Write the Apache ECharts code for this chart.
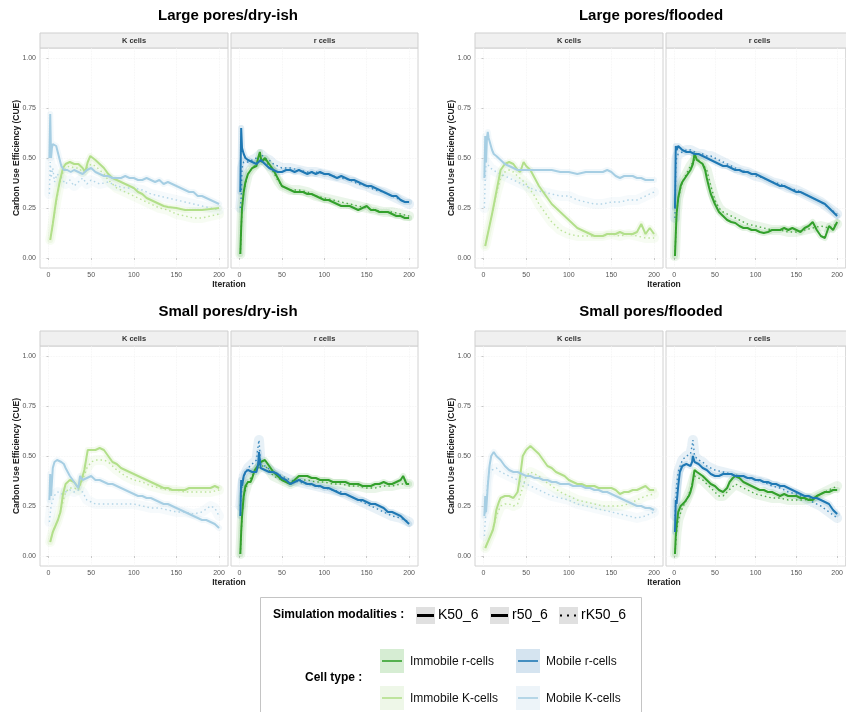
<!DOCTYPE html>
<html><head><meta charset="utf-8">
<script src="https://cdn.jsdelivr.net/npm/echarts@6/dist/echarts.min.js"></script>
<style>html,body{margin:0;padding:0;background:#fff}#c{width:846px;height:712px}</style>
</head><body><div id="c"></div>
<script>
// ---------- DATA: [iteration, CUE] ----------
// Large pores / dry-ish
const LD_K_mobile_K50 = [[1,0.50],[2,0.72],[3,0.50],[4,0.55],[5,0.57],[7,0.58],[9,0.56],[12,0.51],[15,0.46],[18,0.44],[22,0.44],[26,0.43],[30,0.44],[35,0.43],[40,0.42],[45,0.44],[50,0.45],[55,0.43],[60,0.42],[65,0.41],[70,0.41],[75,0.40],[80,0.40],[85,0.40],[90,0.41],[95,0.40],[100,0.40],[105,0.39],[110,0.39],[115,0.40],[120,0.39],[125,0.38],[130,0.39],[135,0.37],[140,0.38],[145,0.37],[150,0.36],[155,0.35],[160,0.34],[165,0.33],[170,0.33],[175,0.31],[180,0.31],[185,0.30],[190,0.29],[195,0.28],[200,0.27]];
const LD_K_immobile_K50 = [[2,0.09],[5,0.17],[9,0.29],[13,0.38],[17,0.45],[20,0.47],[25,0.48],[30,0.47],[35,0.47],[40,0.45],[43,0.43],[46,0.48],[49,0.51],[52,0.50],[55,0.49],[60,0.47],[65,0.45],[70,0.42],[75,0.40],[80,0.39],[85,0.38],[90,0.37],[95,0.36],[100,0.35],[105,0.33],[110,0.32],[115,0.30],[120,0.29],[125,0.28],[130,0.27],[135,0.26],[140,0.255],[150,0.25],[160,0.24],[170,0.24],[180,0.24],[190,0.245],[200,0.25]];
const LD_K_mobile_rK50 = [[1,0.32],[2,0.48],[3,0.40],[5,0.45],[7,0.38],[10,0.42],[15,0.40],[20,0.37],[25,0.39],[30,0.36],[35,0.38],[40,0.40],[45,0.37],[50,0.39],[55,0.38],[60,0.37],[70,0.38],[80,0.36],[90,0.35],[100,0.35],[110,0.34],[120,0.32],[130,0.31],[140,0.30],[150,0.29],[160,0.28],[170,0.27],[180,0.26],[190,0.25],[200,0.24]];
const LD_K_immobile_rK50 = [[2,0.09],[5,0.17],[9,0.28],[13,0.37],[17,0.43],[20,0.45],[25,0.46],[30,0.45],[35,0.45],[40,0.43],[45,0.45],[50,0.47],[55,0.46],[60,0.44],[65,0.42],[70,0.39],[75,0.37],[80,0.35],[90,0.33],[100,0.31],[110,0.29],[120,0.27],[130,0.25],[140,0.24],[150,0.22],[160,0.21],[170,0.20],[180,0.20],[190,0.21],[200,0.22]];
const LD_r_mobile_r50 = [[1,0.33],[2,0.65],[3,0.55],[5,0.52],[7,0.50],[10,0.49],[15,0.48],[20,0.47],[25,0.49],[30,0.47],[35,0.45],[40,0.44],[45,0.43],[50,0.43],[55,0.44],[60,0.44],[65,0.43],[70,0.44],[75,0.43],[80,0.42],[85,0.43],[90,0.42],[95,0.43],[100,0.42],[105,0.42],[110,0.41],[115,0.40],[120,0.41],[125,0.40],[130,0.39],[135,0.39],[140,0.38],[145,0.37],[150,0.36],[155,0.36],[160,0.35],[165,0.34],[170,0.33],[175,0.32],[180,0.31],[185,0.31],[190,0.29],[195,0.28],[200,0.28]];
const LD_r_immobile_r50 = [[1,0.02],[2,0.15],[3,0.25],[5,0.33],[7,0.38],[10,0.42],[15,0.45],[20,0.46],[22,0.50],[24,0.53],[26,0.48],[30,0.50],[35,0.47],[40,0.44],[45,0.40],[50,0.36],[55,0.35],[60,0.34],[65,0.33],[70,0.33],[75,0.33],[80,0.32],[85,0.32],[90,0.31],[95,0.30],[100,0.29],[105,0.29],[110,0.28],[115,0.27],[120,0.26],[125,0.26],[130,0.26],[135,0.25],[140,0.24],[145,0.25],[150,0.26],[155,0.24],[160,0.24],[165,0.23],[170,0.23],[175,0.23],[180,0.22],[185,0.21],[190,0.21],[195,0.20],[200,0.20]];
const LD_r_mobile_rK50 = [[1,0.25],[2,0.30],[3,0.45],[5,0.48],[10,0.48],[15,0.49],[20,0.50],[25,0.52],[30,0.50],[35,0.49],[40,0.47],[50,0.45],[60,0.45],[70,0.44],[80,0.43],[90,0.43],[100,0.42],[110,0.41],[120,0.40],[130,0.39],[140,0.37],[150,0.36],[160,0.34],[170,0.33],[180,0.31],[190,0.29],[200,0.27]];
const LD_r_immobile_rK50 = [[1,0.02],[3,0.25],[5,0.33],[10,0.42],[15,0.45],[20,0.47],[25,0.49],[30,0.49],[35,0.46],[40,0.43],[45,0.39],[50,0.36],[60,0.34],[70,0.34],[80,0.33],[90,0.31],[100,0.30],[110,0.29],[120,0.28],[130,0.27],[140,0.26],[150,0.25],[160,0.24],[170,0.23],[180,0.23],[190,0.22],[200,0.21]];
// Large pores / flooded
const LF_K_mobile_K50 = [[1,0.40],[2,0.61],[3,0.48],[4,0.60],[5,0.63],[6,0.60],[8,0.57],[10,0.54],[12,0.52],[15,0.51],[20,0.49],[25,0.47],[30,0.46],[35,0.45],[40,0.44],[45,0.44],[50,0.44],[60,0.44],[70,0.44],[80,0.44],[90,0.43],[100,0.43],[110,0.42],[120,0.43],[130,0.43],[140,0.43],[145,0.44],[150,0.43],[155,0.41],[160,0.40],[165,0.41],[170,0.41],[175,0.41],[180,0.40],[185,0.40],[190,0.39],[195,0.39],[200,0.39]];
const LF_K_immobile_K50 = [[2,0.06],[5,0.12],[10,0.22],[15,0.33],[20,0.44],[25,0.47],[30,0.48],[35,0.47],[40,0.44],[43,0.43],[47,0.48],[50,0.46],[55,0.44],[60,0.40],[65,0.36],[70,0.33],[75,0.30],[80,0.27],[85,0.25],[90,0.23],[95,0.21],[100,0.19],[105,0.17],[110,0.15],[115,0.14],[120,0.13],[125,0.12],[130,0.11],[135,0.11],[140,0.11],[145,0.12],[150,0.12],[155,0.12],[160,0.13],[165,0.12],[170,0.12],[175,0.12],[180,0.13],[185,0.17],[188,0.14],[190,0.12],[195,0.15],[200,0.12]];
const LF_K_mobile_rK50 = [[1,0.25],[2,0.40],[3,0.48],[5,0.47],[8,0.45],[10,0.44],[15,0.43],[20,0.42],[25,0.41],[30,0.40],[35,0.39],[40,0.38],[45,0.37],[50,0.36],[55,0.35],[60,0.34],[70,0.33],[80,0.32],[90,0.31],[100,0.31],[110,0.29],[120,0.28],[130,0.27],[140,0.27],[150,0.28],[160,0.28],[170,0.29],[180,0.29],[190,0.31],[200,0.33]];
const LF_K_immobile_rK50 = [[2,0.06],[5,0.12],[10,0.22],[15,0.32],[20,0.40],[25,0.43],[30,0.44],[35,0.43],[40,0.41],[45,0.39],[50,0.37],[55,0.34],[60,0.31],[65,0.27],[70,0.24],[75,0.21],[80,0.18],[85,0.16],[90,0.14],[100,0.12],[110,0.11],[120,0.11],[130,0.11],[140,0.11],[150,0.12],[160,0.11],[170,0.12],[180,0.11],[190,0.10],[200,0.10]];
const LF_r_mobile_r50 = [[1,0.25],[2,0.56],[3,0.54],[5,0.56],[10,0.54],[15,0.53],[20,0.53],[25,0.52],[30,0.52],[35,0.51],[40,0.50],[45,0.49],[50,0.48],[55,0.47],[60,0.46],[65,0.46],[70,0.45],[75,0.44],[80,0.44],[85,0.43],[90,0.43],[95,0.42],[100,0.42],[105,0.41],[110,0.40],[115,0.39],[120,0.38],[125,0.37],[130,0.36],[135,0.36],[140,0.35],[145,0.34],[150,0.33],[155,0.33],[160,0.32],[165,0.31],[170,0.30],[175,0.29],[180,0.28],[185,0.27],[190,0.25],[195,0.23],[200,0.21]];
const LF_r_immobile_r50 = [[1,0.01],[2,0.12],[3,0.22],[5,0.30],[8,0.36],[10,0.38],[15,0.41],[20,0.44],[23,0.47],[25,0.52],[28,0.49],[30,0.48],[35,0.47],[38,0.44],[40,0.40],[43,0.35],[45,0.32],[50,0.27],[55,0.23],[60,0.21],[65,0.19],[70,0.18],[75,0.175],[80,0.16],[85,0.15],[90,0.15],[95,0.14],[100,0.14],[105,0.13],[110,0.125],[115,0.13],[120,0.14],[125,0.14],[130,0.14],[135,0.15],[140,0.14],[145,0.15],[150,0.14],[155,0.13],[160,0.15],[165,0.16],[170,0.18],[175,0.14],[180,0.11],[185,0.10],[190,0.16],[195,0.14],[200,0.18]];
const LF_r_mobile_rK50 = [[1,0.20],[2,0.45],[3,0.50],[5,0.52],[10,0.53],[15,0.54],[20,0.54],[25,0.53],[30,0.52],[35,0.52],[40,0.51],[45,0.51],[50,0.50],[60,0.48],[70,0.46],[80,0.44],[90,0.43],[100,0.41],[110,0.40],[120,0.38],[130,0.37],[140,0.35],[150,0.34],[160,0.32],[170,0.30],[180,0.28],[190,0.25],[200,0.22]];
const LF_r_immobile_rK50 = [[1,0.01],[3,0.22],[5,0.30],[10,0.38],[15,0.42],[20,0.46],[25,0.49],[30,0.49],[35,0.47],[40,0.44],[45,0.36],[50,0.29],[55,0.25],[60,0.23],[70,0.21],[80,0.19],[90,0.17],[100,0.16],[110,0.15],[120,0.14],[130,0.14],[140,0.13],[150,0.13],[160,0.14],[170,0.15],[180,0.16],[190,0.15],[200,0.17]];
// Small pores / dry-ish
const SD_K_mobile_K50 = [[1,0.28],[2,0.41],[3,0.30],[5,0.44],[7,0.47],[10,0.48],[12,0.47],[15,0.47],[18,0.46],[20,0.44],[25,0.40],[30,0.37],[35,0.34],[37,0.40],[40,0.38],[45,0.39],[50,0.40],[55,0.38],[60,0.38],[65,0.37],[70,0.36],[75,0.36],[80,0.35],[85,0.34],[90,0.33],[95,0.32],[100,0.31],[105,0.30],[110,0.30],[115,0.29],[120,0.29],[125,0.28],[130,0.27],[135,0.26],[140,0.26],[145,0.25],[150,0.24],[155,0.23],[160,0.22],[165,0.21],[170,0.20],[175,0.19],[180,0.18],[185,0.18],[190,0.17],[195,0.16],[200,0.14]];
const SD_K_immobile_K50 = [[2,0.07],[5,0.12],[8,0.15],[11,0.18],[14,0.22],[17,0.31],[20,0.36],[25,0.38],[30,0.37],[35,0.34],[38,0.37],[42,0.43],[46,0.53],[50,0.53],[55,0.53],[60,0.54],[65,0.53],[70,0.50],[75,0.47],[80,0.46],[85,0.44],[90,0.43],[95,0.42],[100,0.41],[105,0.40],[110,0.39],[115,0.38],[120,0.37],[125,0.36],[130,0.35],[135,0.34],[140,0.34],[145,0.33],[150,0.33],[155,0.33],[160,0.33],[165,0.34],[170,0.34],[175,0.34],[180,0.34],[185,0.34],[190,0.34],[195,0.35],[200,0.34]];
const SD_K_mobile_rK50 = [[1,0.17],[3,0.25],[5,0.28],[8,0.31],[11,0.32],[15,0.31],[20,0.32],[25,0.33],[30,0.32],[35,0.33],[40,0.32],[45,0.28],[50,0.27],[55,0.26],[60,0.26],[70,0.26],[80,0.26],[90,0.26],[100,0.26],[110,0.25],[120,0.24],[130,0.24],[140,0.23],[150,0.22],[160,0.22],[170,0.21],[180,0.22],[190,0.25],[195,0.24],[200,0.20]];
const SD_K_immobile_rK50 = [[2,0.07],[5,0.12],[10,0.17],[15,0.24],[20,0.32],[25,0.34],[30,0.34],[35,0.33],[40,0.38],[45,0.44],[50,0.47],[55,0.48],[60,0.48],[65,0.48],[70,0.47],[75,0.45],[80,0.43],[90,0.40],[100,0.38],[110,0.37],[120,0.35],[130,0.34],[140,0.33],[150,0.33],[160,0.32],[170,0.32],[180,0.32],[190,0.32],[200,0.33]];
const SD_r_mobile_r50 = [[1,0.20],[2,0.38],[3,0.35],[5,0.40],[7,0.42],[10,0.43],[15,0.42],[20,0.42],[22,0.46],[23,0.52],[25,0.44],[30,0.43],[35,0.42],[40,0.42],[45,0.41],[50,0.39],[55,0.38],[60,0.36],[65,0.37],[70,0.38],[75,0.37],[80,0.36],[85,0.36],[90,0.35],[95,0.35],[100,0.34],[105,0.34],[110,0.33],[115,0.32],[120,0.31],[125,0.31],[130,0.30],[135,0.29],[140,0.28],[145,0.28],[150,0.27],[155,0.26],[160,0.26],[165,0.25],[170,0.24],[175,0.22],[180,0.22],[185,0.21],[190,0.20],[195,0.18],[200,0.16]];
const SD_r_immobile_r50 = [[1,0.01],[2,0.12],[3,0.20],[5,0.30],[7,0.35],[10,0.37],[13,0.37],[15,0.39],[18,0.43],[20,0.44],[25,0.47],[30,0.48],[35,0.45],[40,0.42],[45,0.40],[50,0.38],[55,0.37],[60,0.36],[65,0.38],[70,0.40],[75,0.40],[80,0.40],[85,0.39],[90,0.39],[95,0.38],[100,0.38],[105,0.38],[110,0.37],[115,0.37],[120,0.37],[125,0.37],[130,0.36],[135,0.36],[140,0.36],[145,0.35],[150,0.35],[155,0.35],[160,0.36],[165,0.36],[170,0.37],[175,0.36],[180,0.36],[185,0.37],[190,0.38],[193,0.40],[197,0.36],[200,0.36]];
const SD_r_mobile_rK50 = [[1,0.25],[3,0.35],[5,0.40],[10,0.44],[15,0.46],[20,0.48],[22,0.55],[23,0.58],[25,0.46],[30,0.45],[40,0.42],[50,0.40],[60,0.38],[70,0.37],[80,0.36],[90,0.35],[100,0.34],[110,0.33],[120,0.32],[130,0.30],[140,0.28],[150,0.26],[160,0.24],[170,0.22],[180,0.20],[190,0.19],[200,0.17]];
const SD_r_immobile_rK50 = [[1,0.01],[3,0.20],[5,0.30],[10,0.37],[15,0.40],[20,0.43],[25,0.45],[30,0.45],[35,0.43],[40,0.40],[50,0.38],[60,0.36],[70,0.38],[80,0.38],[90,0.37],[100,0.37],[110,0.36],[120,0.36],[130,0.35],[140,0.35],[150,0.34],[160,0.34],[170,0.35],[180,0.35],[190,0.36],[200,0.36]];
// Small pores / flooded
const SF_K_mobile_K50 = [[1,0.20],[2,0.30],[3,0.22],[5,0.35],[7,0.45],[9,0.50],[12,0.52],[15,0.50],[20,0.48],[25,0.45],[30,0.43],[35,0.42],[40,0.42],[45,0.41],[50,0.40],[55,0.40],[60,0.39],[65,0.39],[70,0.38],[75,0.38],[80,0.37],[85,0.37],[90,0.36],[95,0.36],[100,0.36],[105,0.35],[110,0.35],[115,0.35],[120,0.34],[125,0.34],[130,0.33],[135,0.33],[140,0.32],[145,0.32],[150,0.31],[155,0.30],[160,0.29],[165,0.28],[170,0.27],[175,0.26],[180,0.25],[185,0.25],[190,0.24],[195,0.24],[200,0.23]];
const SF_K_immobile_K50 = [[2,0.04],[5,0.07],[8,0.10],[11,0.13],[13,0.17],[15,0.23],[18,0.27],[20,0.29],[25,0.30],[30,0.30],[35,0.29],[40,0.32],[43,0.40],[46,0.50],[50,0.53],[55,0.55],[60,0.53],[65,0.51],[70,0.48],[75,0.45],[80,0.44],[85,0.42],[90,0.41],[95,0.40],[100,0.38],[105,0.37],[110,0.36],[115,0.36],[120,0.35],[125,0.35],[130,0.35],[135,0.34],[140,0.34],[145,0.34],[150,0.34],[155,0.33],[160,0.31],[165,0.32],[170,0.32],[175,0.33],[180,0.33],[185,0.34],[190,0.35],[195,0.33],[200,0.33]];
const SF_K_mobile_rK50 = [[1,0.10],[3,0.25],[5,0.38],[7,0.42],[10,0.43],[15,0.44],[20,0.42],[25,0.41],[30,0.40],[35,0.39],[40,0.38],[45,0.37],[50,0.36],[60,0.34],[70,0.32],[80,0.30],[90,0.29],[100,0.28],[110,0.26],[120,0.25],[130,0.24],[140,0.23],[150,0.22],[160,0.21],[170,0.20],[180,0.19],[190,0.20],[200,0.22]];
const SF_K_immobile_rK50 = [[2,0.04],[5,0.07],[10,0.12],[15,0.20],[20,0.25],[25,0.26],[30,0.26],[35,0.25],[40,0.26],[45,0.33],[50,0.40],[55,0.42],[60,0.41],[65,0.40],[70,0.38],[80,0.35],[90,0.32],[100,0.30],[110,0.28],[120,0.27],[130,0.26],[140,0.25],[150,0.25],[160,0.25],[170,0.26],[180,0.28],[190,0.30],[200,0.31]];
const SF_r_mobile_r50 = [[1,0.12],[2,0.28],[3,0.26],[5,0.35],[7,0.42],[10,0.45],[15,0.46],[20,0.45],[22,0.47],[23,0.50],[25,0.47],[30,0.46],[35,0.44],[40,0.43],[45,0.41],[50,0.40],[55,0.40],[60,0.41],[65,0.41],[70,0.41],[75,0.40],[80,0.40],[85,0.40],[90,0.39],[95,0.39],[100,0.38],[105,0.38],[110,0.37],[115,0.37],[120,0.36],[125,0.36],[130,0.35],[135,0.35],[140,0.34],[145,0.33],[150,0.32],[155,0.31],[160,0.30],[165,0.30],[170,0.29],[175,0.29],[180,0.28],[185,0.27],[190,0.26],[195,0.23],[200,0.21]];
const SF_r_immobile_r50 = [[1,0.01],[2,0.10],[3,0.15],[5,0.22],[8,0.25],[10,0.25],[13,0.27],[15,0.28],[18,0.30],[20,0.32],[22,0.35],[25,0.43],[28,0.42],[30,0.41],[35,0.40],[40,0.38],[45,0.36],[50,0.35],[55,0.33],[60,0.32],[65,0.34],[68,0.37],[72,0.39],[75,0.40],[80,0.39],[85,0.37],[90,0.36],[95,0.35],[100,0.34],[105,0.33],[110,0.33],[115,0.32],[120,0.32],[125,0.31],[130,0.30],[135,0.31],[140,0.30],[145,0.30],[150,0.30],[155,0.29],[160,0.29],[165,0.28],[170,0.28],[175,0.30],[180,0.31],[185,0.32],[190,0.32],[195,0.33],[200,0.33]];
const SF_r_mobile_rK50 = [[1,0.20],[3,0.35],[5,0.42],[10,0.48],[15,0.50],[20,0.51],[22,0.55],[23,0.58],[25,0.50],[30,0.48],[35,0.47],[40,0.45],[50,0.43],[60,0.42],[70,0.41],[80,0.40],[90,0.39],[100,0.38],[110,0.37],[120,0.35],[130,0.34],[140,0.32],[150,0.31],[160,0.29],[170,0.27],[180,0.25],[190,0.22],[200,0.19]];
const SF_r_immobile_rK50 = [[1,0.01],[3,0.12],[5,0.18],[10,0.24],[15,0.28],[20,0.33],[25,0.40],[30,0.39],[35,0.38],[40,0.36],[45,0.34],[50,0.32],[55,0.30],[60,0.30],[65,0.32],[70,0.34],[75,0.36],[80,0.35],[90,0.33],[100,0.31],[110,0.30],[120,0.29],[130,0.29],[140,0.28],[150,0.28],[160,0.28],[170,0.29],[180,0.31],[190,0.33],[200,0.35]];

const PANEL_TITLES = ['Large pores/dry-ish','Large pores/flooded','Small pores/dry-ish','Small pores/flooded'];
const FACETS = ['K cells','r cells'];
const X_TICKS = [0,50,100,150,200];
const Y_TICKS = [0,0.25,0.5,0.75,1];
const Y_TITLE = 'Carbon Use Efficiency (CUE)';
const X_TITLE = 'Iteration';
const CELL_TYPES = ['Immobile r-cells','Mobile r-cells','Immobile K-cells','Mobile K-cells'];
const MODALITIES = ['K50_6','r50_6','rK50_6'];

// table: panel -> facet -> [data, cell type, modality]
const TABLE = [
  [[[LD_K_immobile_K50,'Immobile K-cells','K50_6'],[LD_K_mobile_K50,'Mobile K-cells','K50_6'],[LD_K_immobile_rK50,'Immobile K-cells','rK50_6'],[LD_K_mobile_rK50,'Mobile K-cells','rK50_6']],
   [[LD_r_immobile_r50,'Immobile r-cells','r50_6'],[LD_r_mobile_r50,'Mobile r-cells','r50_6'],[LD_r_immobile_rK50,'Immobile r-cells','rK50_6'],[LD_r_mobile_rK50,'Mobile r-cells','rK50_6']]],
  [[[LF_K_immobile_K50,'Immobile K-cells','K50_6'],[LF_K_mobile_K50,'Mobile K-cells','K50_6'],[LF_K_immobile_rK50,'Immobile K-cells','rK50_6'],[LF_K_mobile_rK50,'Mobile K-cells','rK50_6']],
   [[LF_r_immobile_r50,'Immobile r-cells','r50_6'],[LF_r_mobile_r50,'Mobile r-cells','r50_6'],[LF_r_immobile_rK50,'Immobile r-cells','rK50_6'],[LF_r_mobile_rK50,'Mobile r-cells','rK50_6']]],
  [[[SD_K_immobile_K50,'Immobile K-cells','K50_6'],[SD_K_mobile_K50,'Mobile K-cells','K50_6'],[SD_K_immobile_rK50,'Immobile K-cells','rK50_6'],[SD_K_mobile_rK50,'Mobile K-cells','rK50_6']],
   [[SD_r_immobile_r50,'Immobile r-cells','r50_6'],[SD_r_mobile_r50,'Mobile r-cells','r50_6'],[SD_r_immobile_rK50,'Immobile r-cells','rK50_6'],[SD_r_mobile_rK50,'Mobile r-cells','rK50_6']]],
  [[[SF_K_immobile_K50,'Immobile K-cells','K50_6'],[SF_K_mobile_K50,'Mobile K-cells','K50_6'],[SF_K_immobile_rK50,'Immobile K-cells','rK50_6'],[SF_K_mobile_rK50,'Mobile K-cells','rK50_6']],
   [[SF_r_immobile_r50,'Immobile r-cells','r50_6'],[SF_r_mobile_r50,'Mobile r-cells','r50_6'],[SF_r_immobile_rK50,'Immobile r-cells','rK50_6'],[SF_r_mobile_rK50,'Mobile r-cells','rK50_6']]]
];

// ---------- STYLE / LAYOUT ----------
const COLORS = {'Immobile r-cells':'#33a02c','Mobile r-cells':'#1f78b4','Immobile K-cells':'#b2df8a','Mobile K-cells':'#a6cee3'};
const KEY_FILL = {'Immobile r-cells':'#d6edd3','Mobile r-cells':'#d5e4f0','Immobile K-cells':'#eef7e8','Mobile K-cells':'#edf4f9'};
const FONT = '"Liberation Sans", Arial, sans-serif';
const OFFSETS = [[0,0],[435,0],[0,298],[435,298]];
const TITLE_POS = [[228,16],[651,16],[228,312],[651,312]];
const FACET_BOX = [[40,188],[231,187]]; // left, width
const TOP = 48, H = 220;

const grids = [], xAxes = [], yAxes = [], series = [], graphics = [];
PANEL_TITLES.forEach((title, p) => {
  const [ox, oy] = OFFSETS[p];
  graphics.push({type:'text', x:TITLE_POS[p][0], y:TITLE_POS[p][1], style:{text:title, font:'bold 15px '+FONT, fill:'#000', textAlign:'center', textVerticalAlign:'middle'}});
  graphics.push({type:'text', x:17+ox, y:158+oy, rotation:Math.PI/2, style:{text:Y_TITLE, x:0, y:0, font:'bold 8.5px '+FONT, fill:'#222', textAlign:'center', textVerticalAlign:'middle'}});
  graphics.push({type:'text', x:229+ox, y:285+oy, style:{text:X_TITLE, font:'bold 8.5px '+FONT, fill:'#222', textAlign:'center', textVerticalAlign:'middle'}});
  FACETS.forEach((facet, f) => {
    const gi = p*2 + f;
    const left = FACET_BOX[f][0] + ox, width = FACET_BOX[f][1];
    grids.push({left, top:TOP+oy, width, height:H, show:true, borderColor:'#d2d2d2', borderWidth:1, backgroundColor:'#fff'});
    graphics.push({type:'rect', shape:{x:left, y:33+oy, width, height:15}, style:{fill:'#f0f0f0', stroke:'#cfcfcf', lineWidth:1}});
    graphics.push({type:'text', x:left+width/2, y:40.5+oy, style:{text:facet, font:'bold 7.5px '+FONT, fill:'#333', textAlign:'center', textVerticalAlign:'middle'}});
    xAxes.push({type:'value', gridIndex:gi, min:-10, max:210.5,
      axisLine:{show:false},
      axisTick:{show:true, customValues:X_TICKS, length:2, lineStyle:{color:'#c8c8c8'}},
      axisLabel:{customValues:X_TICKS, fontSize:7, color:'#555', margin:4, fontFamily:FONT},
      splitLine:{show:true, lineStyle:{color:'#f1f1f1', width:0.8, type:'dotted'}}});
    yAxes.push({type:'value', gridIndex:gi, min:-0.05, max:1.05,
      axisLine:{show:false},
      axisTick:{show:f===0, customValues:Y_TICKS, length:2, lineStyle:{color:'#c8c8c8'}},
      axisLabel:{show:f===0, customValues:Y_TICKS, fontSize:7, color:'#555', margin:4, fontFamily:FONT, formatter:v=>v.toFixed(2)},
      splitLine:{show:true, lineStyle:{color:'#f1f1f1', width:0.8, type:'dotted'}}});
    TABLE[p][f].forEach(([data, cell, mod]) => {
      const dotted = mod === 'rK50_6';
      const col = COLORS[cell];
      series.push({type:'line', xAxisIndex:gi, yAxisIndex:gi, data, showSymbol:false, silent:true, z:1,
        lineStyle:{color:col, width:dotted?10:6, opacity:dotted?0.1:0.14, cap:'round', join:'round'}});
      series.push({type:'line', xAxisIndex:gi, yAxisIndex:gi, data, showSymbol:false, silent:true, z:dotted?2:3,
        lineStyle:{color:col, width:dotted?1.4:2, type:dotted?[1.5,3]:'solid', opacity:dotted?0.85:1}});
    });
  });
});

// ---------- LEGEND ----------
graphics.push({type:'rect', shape:{x:260.5, y:597.5, width:381, height:130}, style:{fill:'#fff', stroke:'#c4c4c4', lineWidth:1}});
graphics.push({type:'text', x:273, y:615, style:{text:'Simulation modalities :', font:'bold 12px '+FONT, fill:'#000', textVerticalAlign:'middle'}});
const MOD_X = [416, 490, 559];
MODALITIES.forEach((m, i) => {
  const x = MOD_X[i];
  graphics.push({type:'rect', shape:{x, y:607, width:19, height:17}, style:{fill:'#e0e0e0'}});
  graphics.push({type:'line', shape:{x1:x+1, y1:615.5, x2:x+18, y2:615.5}, style:{stroke:'#000', lineWidth:m==='rK50_6'?2:3, lineDash:m==='rK50_6'?[2,5]:null}});
  graphics.push({type:'text', x:x+22, y:615.5, style:{text:m, font:'14px '+FONT, fill:'#000', textVerticalAlign:'middle'}});
});
graphics.push({type:'text', x:305, y:678, style:{text:'Cell type :', font:'bold 12px '+FONT, fill:'#000', textVerticalAlign:'middle'}});
const CT_POS = [[380,649],[516,649],[380,686],[516,686]];
CELL_TYPES.forEach((c, i) => {
  const [x, y] = CT_POS[i];
  graphics.push({type:'rect', shape:{x, y, width:24, height:24}, style:{fill:KEY_FILL[c]}});
  graphics.push({type:'line', shape:{x1:x+2, y1:y+12, x2:x+22, y2:y+12}, style:{stroke:COLORS[c], lineWidth:1.6}});
  graphics.push({type:'text', x:x+30, y:y+13, style:{text:c, font:'12px '+FONT, fill:'#111', textVerticalAlign:'middle'}});
});

const chart = echarts.init(document.getElementById('c'), null, {renderer:'canvas'});
chart.setOption({animation:false, backgroundColor:'#fff', grid:grids, xAxis:xAxes, yAxis:yAxes, series, graphic:graphics});
</script></body></html>
